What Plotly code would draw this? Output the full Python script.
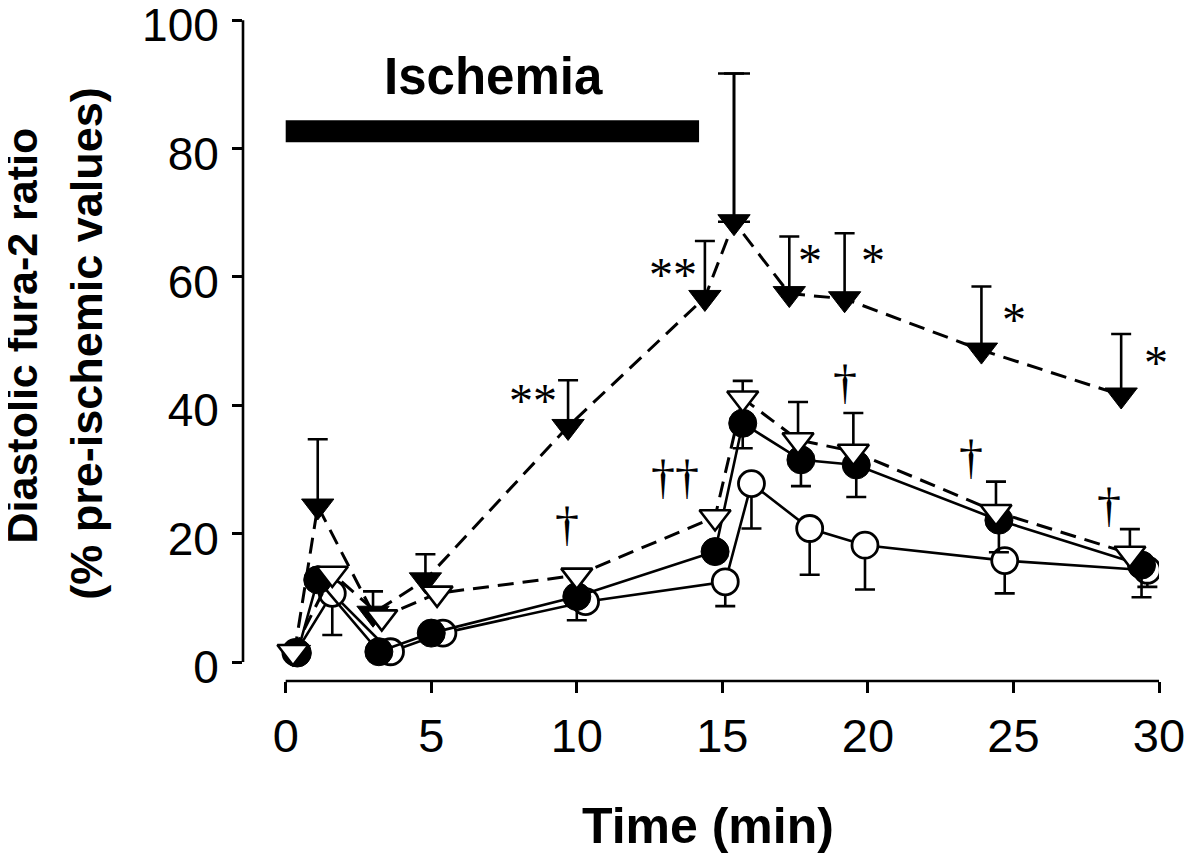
import plotly.graph_objects as go

# ---------------- data ----------------
# Filled down-triangles, dashed line, error bars upward
tri_fill_t = [0.3, 1.1, 3.0, 4.8, 9.7, 14.4, 15.4, 17.3, 19.2, 23.9, 28.7]
tri_fill_v = [1.5, 24.3, 7.6, 12.8, 36.7, 56.8, 68.6, 57.4, 56.6, 48.6, 41.6]
tri_fill_e = [0, 10.4, 3.4, 4.0, 7.2, 8.8, 23.1, 8.9, 10.2, 9.9, 9.5]

# Open down-triangles, dashed line, error bars upward
tri_open_t = [0.25, 1.6, 3.3, 5.2, 10.0, 14.75, 15.7, 17.6, 19.5, 24.4, 29.0]
tri_open_v = [1.6, 13.8, 7.0, 10.7, 13.5, 22.6, 41.1, 34.6, 32.8, 23.4, 16.9]
tri_open_e = [0, 0, 0, 0, 0, 0, 2.7, 5.9, 6.0, 4.7, 3.8]

# Filled circles, solid line, error bars downward
circ_fill_t = [0.4, 1.1, 3.2, 5.0, 10.0, 14.75, 15.7, 17.7, 19.6, 24.5, 29.4]
circ_fill_v = [1.4, 12.8, 1.6, 4.5, 10.2, 17.2, 37.2, 31.5, 30.7, 22.1, 15.1]
circ_fill_e = [0, 0, 0, 0, 3.7, 0, 3.9, 4.1, 5.0, 5.0, 5.0]

# Open circles, solid line, error bars downward
circ_open_t = [0.35, 1.6, 3.6, 5.4, 10.3, 15.1, 16.0, 18.0, 19.9, 24.7, 29.6]
circ_open_v = [1.5, 10.7, 1.6, 4.5, 9.4, 12.5, 27.8, 20.8, 18.2, 15.8, 14.3]
circ_open_e = [0, 6.5, 0, 0, 0, 3.8, 7.0, 7.2, 6.9, 5.1, 2.6]

x_ticks = [0, 5, 10, 15, 20, 25, 30]
y_ticks = [0, 20, 40, 60, 80, 100]

ischemia_start = 0
ischemia_end = 14.2

# significance marks: (text, x, y)
marks = [
    ("**", 8.48, 40.8), ("**", 13.3, 60.4),
    ("*", 18.01, 62.6), ("*", 20.17, 62.6), ("*", 25.02, 53.3), ("*", 29.88, 46.7),
    ("\u2020", 9.68, 21.6), ("\u2020\u2020", 13.37, 28.9), ("\u2020", 19.23, 43.7),
    ("\u2020", 23.54, 32.0), ("\u2020", 28.28, 24.5),
]

# ---------------- figure ----------------
LW = 2.6
zeros = lambda n: [0] * n

fig = go.Figure()

# open circles
fig.add_trace(go.Scatter(
    x=circ_open_t, y=circ_open_v, mode="lines+markers",
    line=dict(color="black", width=LW),
    marker=dict(symbol="circle", size=26, color="white", line=dict(color="black", width=2.8)),
    error_y=dict(type="data", symmetric=False, array=zeros(len(circ_open_e)), arrayminus=circ_open_e,
                 color="black", thickness=LW, width=10),
    showlegend=False))

# filled circles
fig.add_trace(go.Scatter(
    x=circ_fill_t, y=circ_fill_v, mode="lines+markers",
    line=dict(color="black", width=LW),
    marker=dict(symbol="circle", size=28, color="black", line=dict(color="black", width=1)),
    error_y=dict(type="data", symmetric=False, array=zeros(len(circ_fill_e)), arrayminus=circ_fill_e,
                 color="black", thickness=LW, width=10),
    showlegend=False))

# filled triangles
fig.add_trace(go.Scatter(
    x=tri_fill_t, y=tri_fill_v, mode="lines+markers",
    line=dict(color="black", width=3, dash="16px,9px"),
    marker=dict(symbol="triangle-down", size=28, color="black", line=dict(color="black", width=1)),
    error_y=dict(type="data", symmetric=False, array=tri_fill_e, arrayminus=zeros(len(tri_fill_e)),
                 color="black", thickness=LW, width=10),
    showlegend=False))

# the largest (peak) error bar has a wider cap in the original
peak = tri_fill_v.index(max(tri_fill_v))
fig.add_trace(go.Scatter(
    x=[tri_fill_t[peak]], y=[tri_fill_v[peak]], mode="markers",
    marker=dict(size=1, color="rgba(0,0,0,0)"),
    error_y=dict(type="data", symmetric=False, array=[tri_fill_e[peak]], arrayminus=[0],
                 color="black", thickness=LW, width=16),
    showlegend=False, hoverinfo="skip"))

# open triangles
fig.add_trace(go.Scatter(
    x=tri_open_t, y=tri_open_v, mode="lines+markers",
    line=dict(color="black", width=3, dash="16px,9px"),
    marker=dict(symbol="triangle-down", size=27, color="white", line=dict(color="black", width=LW)),
    error_y=dict(type="data", symmetric=False, array=tri_open_e, arrayminus=zeros(len(tri_open_e)),
                 color="black", thickness=LW, width=10),
    showlegend=False))

# ischemia bar
fig.add_shape(type="rect", xref="x", yref="y", x0=ischemia_start, x1=ischemia_end, y0=81.0, y1=84.4,
              fillcolor="black", line=dict(width=0))
# axis lines (detached style)
fig.add_shape(type="line", xref="x", yref="paper", x0=x_ticks[0], x1=x_ticks[-1], y0=0, y1=0,
              line=dict(color="black", width=2.6))
fig.add_shape(type="line", xref="paper", yref="y", x0=0, x1=0, y0=y_ticks[0], y1=y_ticks[-1],
              line=dict(color="black", width=2.6))

annos = []
annos.append(dict(text="Ischemia", x=7.15, y=91.3, xref="x", yref="y", showarrow=False,
                  xanchor="center", yanchor="middle",
                  font=dict(family="Liberation Sans, Arial", size=51, color="black", weight="bold")))
for txt, mx, my in marks:
    annos.append(dict(text=txt, x=mx, y=my, xref="x", yref="y", showarrow=False,
                      xanchor="center", yanchor="middle",
                      font=dict(family="Liberation Serif, Times New Roman", size=48, color="black")))
annos.append(dict(text="Diastolic fura-2 ratio", x=-0.2418, y=0.522, xref="paper", yref="paper",
                  showarrow=False, textangle=-90, xanchor="center", yanchor="middle",
                  font=dict(family="Liberation Sans, Arial", size=43, color="black", weight="bold")))
annos.append(dict(text="(% pre-ischemic values)", x=-0.171, y=0.5106, xref="paper", yref="paper",
                  showarrow=False, textangle=-90, xanchor="center", yanchor="middle",
                  font=dict(family="Liberation Sans, Arial", size=45, color="black", weight="bold")))
annos.append(dict(text="Time (min)", x=0.5076, y=-0.2194, xref="paper", yref="paper",
                  showarrow=False, xanchor="center", yanchor="middle",
                  font=dict(family="Liberation Sans, Arial", size=50, color="black", weight="bold")))

# the page body adds an 8px margin, so the figure is 8px smaller than the window
fig.update_layout(
    width=1192, height=846,
    margin=dict(l=235, r=41, t=12, b=173, autoexpand=False),
    paper_bgcolor="white", plot_bgcolor="white",
    annotations=annos,
    xaxis=dict(range=[-1.467, 30], tickvals=x_ticks, showgrid=False, zeroline=False, showline=False,
               ticks="outside", ticklen=11, tickwidth=2.6, tickcolor="black",
               tickfont=dict(family="Liberation Sans, Arial", size=47, color="black"),
               ticklabelstandoff=3, ticklabeloverflow="allow", automargin=False),
    yaxis=dict(range=[-2.96, 100.03], tickvals=y_ticks, showgrid=False, zeroline=False, showline=False,
               ticks="outside", ticklen=10, tickwidth=2.6, tickcolor="black",
               tickfont=dict(family="Liberation Sans, Arial", size=46, color="black"),
               ticklabelstandoff=4, ticklabelshift=5, ticklabeloverflow="allow", automargin=False),
)

fig.write_html("out.html")
